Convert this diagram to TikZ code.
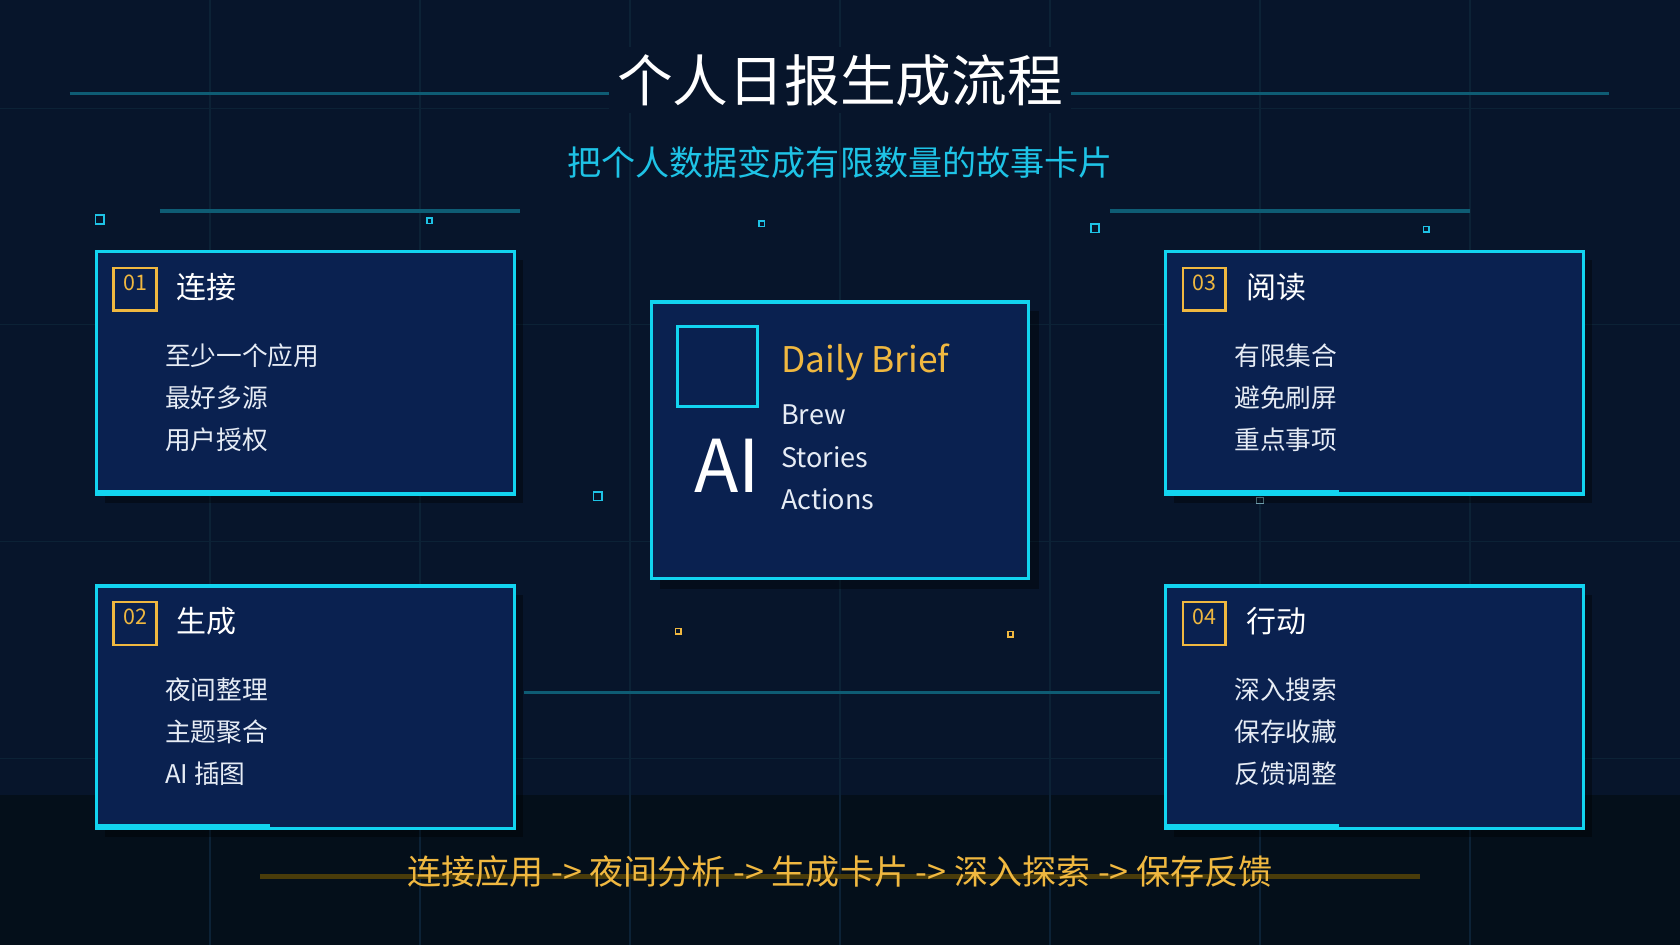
\documentclass[tikz,border=0pt]{standalone}
\usepackage{fontspec}
\setmainfont{Noto Sans CJK SC}
\usepackage{tikz}
\usetikzlibrary{positioning}
\definecolor{bgnavy}{HTML}{07152B}
\definecolor{bgbottom}{HTML}{040F1A}
\definecolor{gridc}{HTML}{0C2236}
\definecolor{teal}{HTML}{0E5C74}
\definecolor{cyanb}{HTML}{12D4F0}
\definecolor{subc}{HTML}{1EC3E6}
\definecolor{cardfill}{HTML}{0A2150}
\definecolor{gold}{HTML}{F0B840}
\definecolor{goldline}{HTML}{4A3C0A}
\definecolor{itemc}{HTML}{E6ECF5}
\tikzset{
	card/.style={draw=cyanb, line width=1.6pt, fill=cardfill},
	shade/.style={fill=black, opacity=0.35},
	numbox/.style={draw=gold, line width=1.2pt},
	cardtitle/.style={text=white, anchor=west, font=\fontsize{14}{16}\selectfont},
	carditem/.style={text=itemc, anchor=west, font=\fontsize{12}{14}\selectfont},
	numtext/.style={text=gold, font=\fontsize{10}{12}\selectfont},
	deco/.style={teal, line width=1.5pt},
	dot/.style={draw=subc, line width=0.8pt},
}
\begin{document}
\begin{tikzpicture}[x=0.5pt, y=-0.5pt]
	% background
	\fill[bgnavy] (0,0) rectangle (1568,882);
	\fill[bgbottom] (0,742) rectangle (1568,882);
	\useasboundingbox (0,0) rectangle (1568,882);
	\foreach \gx in {196,392,588,784,980,1176,1372}
		\draw[gridc, line width=0.5pt] (\gx,0) -- (\gx,882);
	\foreach \gy in {101,303,505,708}
		\draw[gridc, line width=0.5pt] (0,\gy) -- (1568,\gy);
	% title
	\coordinate (tl) at (65,87);
	\coordinate (tr) at (1502,87);
	\draw[deco] (tl) -- (tr);
	\node[fill=bgnavy, inner xsep=4pt, text=white, font=\fontsize{26}{30}\selectfont] (title) at (784,75) {个人日报生成流程};
	\node[text=subc, font=\fontsize{15.9}{18}\selectfont] (subtitle) at (784,152) {把个人数据变成有限数量的故事卡片};
	\coordinate (la) at (149,197); \coordinate (lb) at (485,197);
	\coordinate (lc) at (1036,197); \coordinate (ld) at (1372,197);
	\draw[deco] (la) -- (lb);
	\draw[deco] (lc) -- (ld);
	% small squares
	\foreach \sx/\sy/\ss in {93/205/4,401/206/2.5,711/209/2.5,1022/213/4,1331/214/2.5,558/463/4}
		\draw[dot] (\sx-\ss,\sy-\ss) rectangle (\sx+\ss,\sy+\ss);
	\foreach \sx/\sy in {633/589,943/592}
		\draw[gold, line width=0.8pt] (\sx-2.5,\sy-2.5) rectangle (\sx+2.5,\sy+2.5);
	\foreach \sx/\sy in {325/588,1255/597,1098/339,1408/342,866/464,1176/467}
		\draw[teal!60, line width=0.5pt] (\sx-3,\sy-3) rectangle (\sx+3,\sy+3);
	% middle line
	\coordinate (ma) at (489,646); \coordinate (mb) at (1083,646);
	\draw[deco] (ma) -- (mb);
	% cards
	\foreach \cx/\cy/\num/\head/\ia/\ib/\ic in {
		90/235/01/连接/至少一个应用/最好多源/用户授权,
		90/547/02/生成/夜间整理/主题聚合/AI 插图,
		1088/235/03/阅读/有限集合/避免刷屏/重点事项,
		1088/547/04/行动/深入搜索/保存收藏/反馈调整}{
		\fill[shade] (\cx+8,\cy+8) rectangle (\cx+398,\cy+234);
		\draw[card] (\cx,\cy) rectangle (\cx+390,\cy+226);
		\fill[cyanb] (\cx,\cy+222) rectangle (\cx+162,\cy+228);
		\draw[numbox] (\cx+16,\cy+15) rectangle (\cx+56,\cy+55);
		\node[numtext] at (\cx+36,\cy+29) {\num};
		\node[cardtitle] at (\cx+68,\cy+33) {\head};
		\node[carditem] at (\cx+57,\cy+97) {\ia};
		\node[carditem] at (\cx+57,\cy+136) {\ib};
		\node[carditem] at (\cx+57,\cy+175) {\ic};
	}
	% center card
	\fill[shade] (616,290) rectangle (970,550);
	\draw[card] (608,282) rectangle (960,540);
	\draw[draw=cyanb, line width=1.4pt] (632,305) rectangle (707,379);
	\node[text=white, font=\fontsize{34}{38}\selectfont] (ai) at (679,435) {AI};
	\node[text=gold, anchor=west, font=\fontsize{16.5}{20}\selectfont] (brief) at (722,338) {Daily Brief};
	\node[text=itemc, anchor=west, font=\fontsize{12.6}{16}\selectfont] (brew) at (722,387) {Brew};
	\node[text=itemc, anchor=west, font=\fontsize{12.6}{16}\selectfont] (stories) at (722,427) {Stories};
	\node[text=itemc, anchor=west, font=\fontsize{12.6}{16}\selectfont] (actions) at (722,466) {Actions};
	% bottom flow
	\coordinate (fa) at (243,818); \coordinate (fb) at (1325,818);
	\draw[goldline, line width=2.5pt] (fa) -- (fb);
	\node[text=gold, font=\fontsize{15.9}{18}\selectfont] (flow) at (784,813) {连接应用 -> 夜间分析 -> 生成卡片 -> 深入探索 -> 保存反馈};
\end{tikzpicture}
\end{document}
